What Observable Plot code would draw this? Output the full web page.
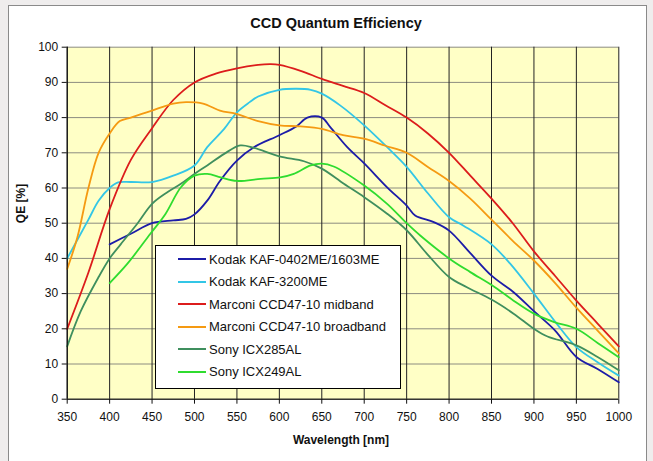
<!DOCTYPE html>
<html>
<head>
<meta charset="utf-8">
<script src="https://cdn.jsdelivr.net/npm/d3@7"></script>
<script src="https://cdn.jsdelivr.net/npm/@observablehq/plot@0.6"></script>
<style>
  html, body { margin: 0; padding: 0; background: #efeded; }
  #wrap { position: relative; width: 653px; height: 461px; overflow: hidden; font-family: "Liberation Sans", Arial, sans-serif; }
  #card { position: absolute; left: 8px; top: 5px; width: 637px; height: 470px; background: #fff; border: 1px solid #8a8a8a; }
  #chart { position: absolute; left: 0; top: 0; }
  #legend { position: absolute; left: 155px; top: 245px; width: 246px; height: 144px; background: #fff; border: 1px solid #000; box-sizing: border-box; }
  .row { position: absolute; left: 0; height: 16px; display: flex; align-items: center; font-size: 13px; color: #111; white-space: nowrap; }
  .sw { width: 28px; height: 2px; margin-left: 22px; margin-right: 3px; }
</style>
</head>
<body>
<div id="wrap">
  <div id="card"></div>
  <div id="chart"></div>
  <div id="legend"></div>
</div>
<script>
// ---- Data ----
const titleText = "CCD Quantum Efficiency";
const xTitle = "Wavelength [nm]";
const yTitle = "QE [%]";
const xTicks = [350, 400, 450, 500, 550, 600, 650, 700, 750, 800, 850, 900, 950, 1000];
const yTicks = [0, 10, 20, 30, 40, 50, 60, 70, 80, 90, 100];

const seriesNames = [
  "Kodak KAF-0402ME/1603ME",
  "Kodak KAF-3200ME",
  "Marconi CCD47-10 midband",
  "Marconi CCD47-10 broadband",
  "Sony ICX285AL",
  "Sony ICX249AL"
];
const seriesColors = ["#1c1ca8", "#33c6e6", "#dc1c1c", "#f59a12", "#3f8f5e", "#2fdc2f"];

const kaf0402Nm = [400, 425, 450, 475, 490, 500, 515, 530, 550, 570, 600, 620, 633, 650, 660, 680, 700, 727, 750, 760, 782, 800, 825, 850, 876, 900, 925, 950, 975, 1000];
const kaf0402Qe = [44, 47, 50, 50.8, 51.2, 52.5, 56.4, 62, 67.8, 71.6, 75, 77.5, 80, 80, 77.3, 71.6, 67, 60.2, 55, 52.2, 50.3, 47.9, 41.5, 35.1, 30.4, 25, 19.5, 12, 8.6, 4.8];

const kaf3200Nm = [350, 375, 387, 400, 410, 425, 450, 475, 500, 515, 535, 550, 565, 575, 600, 620, 637, 650, 672, 700, 727, 750, 775, 800, 817, 850, 872, 900, 927, 950, 975, 1000];
const kaf3200Qe = [40, 51, 56.4, 60, 61.6, 61.7, 61.7, 63.5, 66.4, 71.6, 76.8, 81.5, 84.4, 86, 87.9, 88.2, 87.9, 86.8, 83.4, 77.8, 71.6, 66, 58.5, 51.7, 49.3, 44, 38.5, 30, 21.4, 14.8, 10.5, 6.7];

const midbandNm = [350, 375, 400, 425, 450, 475, 500, 525, 550, 575, 590, 600, 625, 650, 675, 700, 725, 750, 775, 800, 825, 850, 875, 900, 925, 950, 975, 1000];
const midbandQe = [20, 36, 54, 68, 77, 85, 90, 92.5, 94, 95, 95.2, 95, 93.3, 91, 89, 87, 83.5, 80, 75.5, 70, 63.5, 57, 50, 42, 35, 28, 21.5, 15];

const broadbandNm = [350, 362, 375, 387, 400, 412, 425, 437, 450, 475, 490, 510, 530, 550, 575, 600, 625, 650, 675, 700, 725, 750, 775, 800, 825, 850, 875, 900, 925, 950, 975, 1000];
const broadbandQe = [37, 46, 60, 70, 75.5, 79, 80, 81, 82, 84, 84.4, 84, 82, 81, 79, 77.8, 77.5, 76.8, 75, 74, 72, 70, 66, 62, 57, 51, 45, 39.4, 33, 26, 19.5, 13];

const icx285Nm = [350, 366, 387, 400, 413, 433, 450, 468, 484, 500, 515, 535, 554, 570, 600, 629, 650, 676, 700, 727, 750, 774, 800, 821, 850, 876, 900, 916, 950, 975, 1000];
const icx285Qe = [15, 25, 34.7, 40, 44, 50, 55.5, 58.8, 61.2, 64, 66.4, 69.7, 72.1, 71.4, 69, 67.6, 65.5, 61.2, 57.4, 52.7, 48, 41.3, 34.7, 31.8, 28.3, 24.3, 20, 17.8, 15.3, 12, 8.2];

const icx249Nm = [400, 421, 448, 466, 484, 500, 515, 531, 550, 578, 601, 617, 637, 650, 664, 700, 727, 750, 766, 800, 825, 851, 876, 900, 924, 950, 975, 1000];
const icx249Qe = [33, 38.5, 47, 52.7, 60.2, 63.5, 64, 63, 62, 62.6, 63, 64, 66.4, 66.9, 66.1, 60.7, 55.5, 50, 46.5, 40, 36.1, 32.3, 28, 24.3, 21.9, 20, 16, 11.9];

const seriesNm = [kaf0402Nm, kaf3200Nm, midbandNm, broadbandNm, icx285Nm, icx249Nm];
const seriesQe = [kaf0402Qe, kaf3200Qe, midbandQe, broadbandQe, icx285Qe, icx249Qe];

const rows = seriesNames.flatMap((name, k) =>
  seriesNm[k].map((x, i) => ({series: name, x, y: seriesQe[k][i]}))
);

const fontFam = "'Liberation Sans', Arial, sans-serif";

const chart = Plot.plot({
  width: 653,
  height: 461,
  marginLeft: 66.7,
  marginRight: 34.7,
  marginTop: 46.7,
  marginBottom: 62.3,
  style: {fontFamily: fontFam, fontSize: "12px", background: "transparent", color: "#111"},
  x: {domain: [350, 1000]},
  y: {domain: [0, 100]},
  color: {domain: seriesNames, range: seriesColors},
  marks: [
    Plot.frame({fill: "#ffffc6", stroke: null}),
    Plot.ruleY(yTicks, {stroke: "#8c8c80", strokeWidth: 1}),
    Plot.ruleX(xTicks, {stroke: "#222", strokeWidth: 1}),
    Plot.line(rows, {x: "x", y: "y", z: "series", stroke: "series", strokeWidth: 1.8, curve: "catmull-rom"}),
    Plot.ruleX([350], {stroke: "#000", strokeWidth: 1}),
    Plot.ruleY([0], {stroke: "#000", strokeWidth: 1}),
    Plot.axisX({ticks: xTicks, tickSize: 5, tickPadding: 8, tickFormat: d => String(d), label: null, fontSize: 12}),
    Plot.axisY({ticks: yTicks, tickSize: 5, tickPadding: 4, tickFormat: d => String(d), label: null, fontSize: 12}),
    Plot.text([titleText], {frameAnchor: "top", text: d => d, dy: -29, dx: -7, fontWeight: "bold", fontSize: 14.5}),
    Plot.text([xTitle], {frameAnchor: "bottom", text: d => d, dy: 45, dx: -2, fontWeight: "bold", fontSize: 12}),
    Plot.text([yTitle], {frameAnchor: "left", text: d => d, dx: -46, rotate: -90, fontWeight: "bold", fontSize: 12})
  ]
});
document.getElementById("chart").appendChild(chart);

// legend
const legend = document.getElementById("legend");
seriesNames.forEach((name, k) => {
  const row = document.createElement("div");
  row.className = "row";
  row.style.top = (5 + k * 22.5) + "px";
  const sw = document.createElement("span");
  sw.className = "sw";
  sw.style.background = seriesColors[k];
  const t = document.createElement("span");
  t.textContent = name;
  row.appendChild(sw);
  row.appendChild(t);
  legend.appendChild(row);
});
</script>
</body>
</html>
